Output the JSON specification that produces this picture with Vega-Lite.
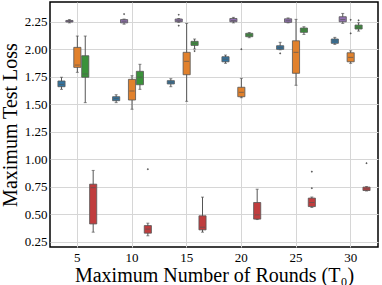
{
  "$schema": "https://vega.github.io/schema/vega-lite/v6.json",
  "width": 328,
  "height": 245,
  "autosize": "none",
  "padding": {"left": 50, "top": 2, "right": 4, "bottom": 38},
  "background": "white",
  "config": {
    "view": {"stroke": "black", "strokeWidth": 1.5},
    "font": "Liberation Serif",
    "axis": {
      "labelFont": "Liberation Serif",
      "titleFont": "Liberation Serif",
      "labelFontSize": 13,
      "titleFontSize": 20,
      "titleFontWeight": "normal",
      "labelColor": "black",
      "titleColor": "black",
      "ticks": false,
      "domain": false,
      "grid": true,
      "gridColor": "#d6d6d6",
      "gridWidth": 1,
      "labelOverlap": false
    }
  },
  "datasets": {
    "boxes": [
      {"rounds": "5", "method": "M1", "lo": 1.635, "q1": 1.659, "med": 1.68, "q3": 1.711, "hi": 1.745},
      {"rounds": "5", "method": "M2", "lo": 2.24, "q1": 2.248, "med": 2.255, "q3": 2.262, "hi": 2.27},
      {"rounds": "5", "method": "M3", "lo": 1.79, "q1": 1.835, "med": 1.856, "q3": 2.017, "hi": 2.12},
      {"rounds": "5", "method": "M4", "lo": 1.514, "q1": 1.745, "med": 1.775, "q3": 1.941, "hi": 2.12},
      {"rounds": "5", "method": "M5", "lo": 0.335, "q1": 0.41, "med": 0.74, "q3": 0.772, "hi": 0.897},
      {"rounds": "10", "method": "M1", "lo": 1.514, "q1": 1.532, "med": 1.55, "q3": 1.568, "hi": 1.586},
      {"rounds": "10", "method": "M2", "lo": 2.228, "q1": 2.24, "med": 2.255, "q3": 2.27, "hi": 2.275},
      {"rounds": "10", "method": "M3", "lo": 1.454, "q1": 1.538, "med": 1.62, "q3": 1.726, "hi": 1.759},
      {"rounds": "10", "method": "M4", "lo": 1.635, "q1": 1.677, "med": 1.745, "q3": 1.799, "hi": 1.863},
      {"rounds": "10", "method": "M5", "lo": 0.302, "q1": 0.326, "med": 0.363, "q3": 0.395, "hi": 0.417},
      {"rounds": "15", "method": "M1", "lo": 1.659, "q1": 1.684, "med": 1.7, "q3": 1.714, "hi": 1.732},
      {"rounds": "15", "method": "M2", "lo": 2.245, "q1": 2.25, "med": 2.26, "q3": 2.275, "hi": 2.28},
      {"rounds": "15", "method": "M3", "lo": 1.526, "q1": 1.768, "med": 1.89, "q3": 1.972, "hi": 2.235},
      {"rounds": "15", "method": "M4", "lo": 2.002, "q1": 2.035, "med": 2.055, "q3": 2.072, "hi": 2.093},
      {"rounds": "15", "method": "M5", "lo": 0.335, "q1": 0.356, "med": 0.38, "q3": 0.484, "hi": 0.654},
      {"rounds": "20", "method": "M1", "lo": 1.872, "q1": 1.886, "med": 1.91, "q3": 1.932, "hi": 1.947},
      {"rounds": "20", "method": "M2", "lo": 2.24, "q1": 2.25, "med": 2.262, "q3": 2.28, "hi": 2.29},
      {"rounds": "20", "method": "M3", "lo": 1.559, "q1": 1.568, "med": 1.608, "q3": 1.654, "hi": 1.735},
      {"rounds": "20", "method": "M4", "lo": 2.105, "q1": 2.114, "med": 2.13, "q3": 2.145, "hi": 2.152},
      {"rounds": "20", "method": "M5", "lo": 0.45, "q1": 0.454, "med": 0.493, "q3": 0.605, "hi": 0.726},
      {"rounds": "25", "method": "M1", "lo": 1.995, "q1": 1.999, "med": 2.015, "q3": 2.032, "hi": 2.063},
      {"rounds": "25", "method": "M2", "lo": 2.24, "q1": 2.245, "med": 2.26, "q3": 2.277, "hi": 2.285},
      {"rounds": "25", "method": "M3", "lo": 1.672, "q1": 1.781, "med": 1.972, "q3": 2.077, "hi": 2.272},
      {"rounds": "25", "method": "M4", "lo": 2.135, "q1": 2.154, "med": 2.175, "q3": 2.193, "hi": 2.205},
      {"rounds": "25", "method": "M5", "lo": 0.56, "q1": 0.568, "med": 0.605, "q3": 0.645, "hi": 0.655},
      {"rounds": "30", "method": "M1", "lo": 2.044, "q1": 2.054, "med": 2.075, "q3": 2.093, "hi": 2.108},
      {"rounds": "30", "method": "M2", "lo": 2.235, "q1": 2.25, "med": 2.27, "q3": 2.296, "hi": 2.326},
      {"rounds": "30", "method": "M3", "lo": 1.872, "q1": 1.886, "med": 1.926, "q3": 1.968, "hi": 1.986},
      {"rounds": "30", "method": "M4", "lo": 2.165, "q1": 2.184, "med": 2.2, "q3": 2.22, "hi": 2.241},
      {"rounds": "30", "method": "M5", "lo": 0.71, "q1": 0.714, "med": 0.729, "q3": 0.745, "hi": 0.75}
    ],
    "outliers": [
      {"rounds": "10", "method": "M2", "value": 2.32},
      {"rounds": "10", "method": "M5", "value": 0.908},
      {"rounds": "15", "method": "M2", "value": 2.314},
      {"rounds": "15", "method": "M2", "value": 2.214},
      {"rounds": "15", "method": "M4", "value": 1.983},
      {"rounds": "20", "method": "M3", "value": 2.0},
      {"rounds": "25", "method": "M1", "value": 1.963},
      {"rounds": "25", "method": "M5", "value": 0.886},
      {"rounds": "25", "method": "M5", "value": 0.735},
      {"rounds": "30", "method": "M3", "value": 2.268},
      {"rounds": "30", "method": "M3", "value": 2.145},
      {"rounds": "30", "method": "M4", "value": 2.263},
      {"rounds": "30", "method": "M5", "value": 0.963}
    ]
  },
  "encoding": {
    "x": {
      "field": "rounds",
      "type": "ordinal",
      "sort": ["5", "10", "15", "20", "25", "30"],
      "scale": {"paddingInner": 0, "paddingOuter": 0},
      "axis": {"labelAngle": 0, "labelPadding": 4, "titlePadding": 1, "title": "Maximum Number of Rounds (T₀)"}
    },
    "xOffset": {
      "field": "method",
      "type": "nominal",
      "sort": ["M1", "M2", "M3", "M4", "M5"],
      "scale": {"paddingInner": 0.1, "paddingOuter": 2.55}
    },
    "y": {
      "field": "lo",
      "type": "quantitative",
      "scale": {"domain": [0.2, 2.43], "nice": false, "zero": false},
      "axis": {"values": [0.25, 0.5, 0.75, 1.0, 1.25, 1.5, 1.75, 2.0, 2.25], "format": ".2f", "labelOverlap": false, "labelPadding": 3, "titlePadding": 4, "title": "Maximum Test Loss"}
    }
  },
  "layer": [
    {
      "data": {"name": "boxes"},
      "mark": {"type": "rule", "color": "#555555", "strokeWidth": 1},
      "encoding": {
        "y2": {"field": "hi"}
      }
    },
    {
      "data": {"name": "boxes"},
      "mark": {"type": "tick", "color": "#555555", "size": 3, "thickness": 1},
      "encoding": {}
    },
    {
      "data": {"name": "boxes"},
      "mark": {"type": "tick", "color": "#555555", "size": 3, "thickness": 1},
      "encoding": {"y": {"field": "hi", "type": "quantitative"}}
    },
    {
      "data": {"name": "boxes"},
      "mark": {"type": "bar", "stroke": "#555555", "strokeWidth": 0.8, "opacity": 1},
      "encoding": {
        "y": {"field": "q1", "type": "quantitative"},
        "y2": {"field": "q3"},
        "color": {
          "field": "method",
          "type": "nominal",
          "scale": {"domain": ["M1", "M2", "M3", "M4", "M5"], "range": ["#3274a1", "#9372b2", "#e1812c", "#3a923a", "#c03d3e"]},
          "legend": null
        }
      }
    },
    {
      "data": {"name": "boxes"},
      "mark": {"type": "tick", "color": "#555555", "size": 5, "thickness": 1},
      "encoding": {"y": {"field": "med", "type": "quantitative"}}
    },
    {
      "data": {"name": "outliers"},
      "mark": {"type": "point", "shape": "diamond", "filled": true, "color": "#555555", "size": 5, "opacity": 1},
      "encoding": {"y": {"field": "value", "type": "quantitative"}}
    }
  ]
}
